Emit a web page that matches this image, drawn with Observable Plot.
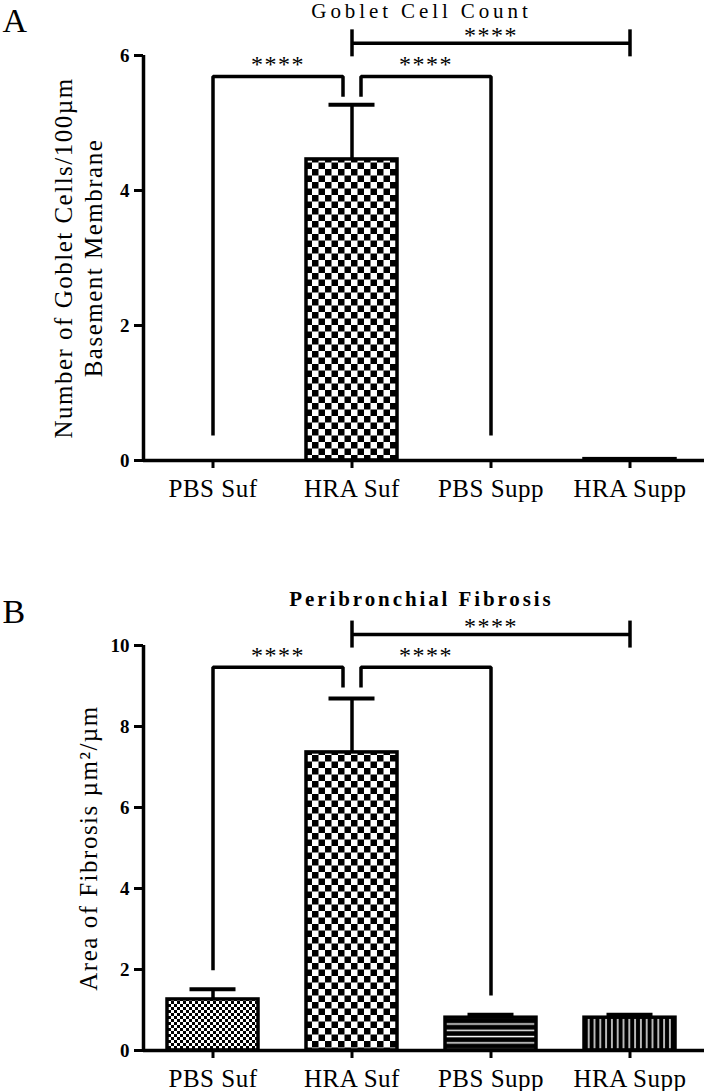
<!DOCTYPE html>
<html><head><meta charset="utf-8">
<script src="https://cdn.jsdelivr.net/npm/d3@7"></script>
<script src="https://cdn.jsdelivr.net/npm/@observablehq/plot@0.6"></script>
<style>
body{margin:0;background:#fff;}
#wrap{width:704px;}
#wrap svg{display:block;}
</style></head><body>
<svg width="0" height="0" style="position:absolute">
<defs>
 <pattern id="fineCheck" patternUnits="userSpaceOnUse" width="6" height="6">
  <rect width="6" height="6" fill="#fff"/><rect width="3" height="3" fill="#000"/><rect x="3" y="3" width="3" height="3" fill="#000"/>
 </pattern>
 <pattern id="coarseCheck" patternUnits="userSpaceOnUse" width="13" height="13">
  <rect width="13" height="13" fill="#fff"/><rect width="6.5" height="6.5" fill="#000"/><rect x="6.5" y="6.5" width="6.5" height="6.5" fill="#000"/>
 </pattern>
 <pattern id="hLines" patternUnits="userSpaceOnUse" width="10" height="6.3">
  <rect width="10" height="6.3" fill="#000"/><rect y="3.4" width="10" height="1.4" fill="#fff"/>
 </pattern>
 <pattern id="vLines" patternUnits="userSpaceOnUse" width="5.8" height="10">
  <rect width="5.8" height="10" fill="#000"/><rect x="2.2" width="1.4" height="10" fill="#fff"/>
 </pattern>
</defs></svg>
<div id="wrap"></div>
<script>
// ---- data ----
const categories = ["PBS Suf", "HRA Suf", "PBS Supp", "HRA Supp"];
const gobletMean = [0, 4.46, 0, 0.02];
const gobletSem = [0, 0.81, 0, 0];
const fibrosisMean = [1.26, 7.36, 0.81, 0.81];
const fibrosisSem = [0.25, 1.33, 0.07, 0.07];
const gobletTicks = [0, 2, 4, 6];
const fibrosisTicks = [0, 2, 4, 6, 8, 10];
// comparisons: from/to category index, bracket level, end heights (null = span bracket)
const gobletComparisons = [
  {from: 0, to: 1, level: 5.69, endFrom: 0.37, endTo: 5.39, label: "****"},
  {from: 1, to: 2, level: 5.69, endFrom: 5.39, endTo: 0.37, label: "****"},
  {from: 1, to: 3, level: 6.18, endFrom: null, endTo: null, label: "****"}
];
const fibrosisComparisons = [
  {from: 0, to: 1, level: 9.46, endFrom: 1.98, endTo: 8.96, label: "****"},
  {from: 1, to: 2, level: 9.46, endFrom: 8.96, endTo: 1.36, label: "****"},
  {from: 1, to: 3, level: 10.27, endFrom: null, endTo: null, label: "****"}
];

// ---- styles ----
const fills = ["url(#fineCheck)", "url(#coarseCheck)", "url(#hLines)", "url(#vLines)"];
const SERIF = "Liberation Serif";

function panel({letter, title, titleWeight, titleY, letterY, ylabel, mean, sem, ticks, ymax, comps, height, marginTop, marginBottom}) {
  const marginLeft = 143, marginRight = 5, width = 704;
  const pxX = (width - marginLeft - marginRight) / 4;
  const pxY = (height - marginTop - marginBottom) / ymax;
  const hw = 45.5 / pxX, capHw = 23 / pxX, gap = 9 / pxX, tickH = 13.5 / pxY;
  const bars = categories.map((c, i) => ({i, v: mean[i], e: sem[i]}));
  const errs = bars.filter(d => d.e > 0);
  const pts = [];
  const spanEnds = [];
  const labels = [];
  comps.forEach((c, k) => {
    if (c.endFrom == null) {
      pts.push({id: k, x: c.from, y: c.level}, {id: k, x: c.to, y: c.level});
      spanEnds.push({x: c.from, y: c.level}, {x: c.to, y: c.level});
      labels.push({x: (c.from + c.to) / 2, y: c.level, label: c.label, span: true});
    } else {
      const fx = c.from + (Math.abs(c.endFrom - c.level) < 1.5 ? gap : 0);
      const tx = c.to - (Math.abs(c.endTo - c.level) < 1.5 ? gap : 0);
      pts.push({id: k, x: fx, y: c.endFrom}, {id: k, x: fx, y: c.level},
               {id: k, x: tx, y: c.level}, {id: k, x: tx, y: c.endTo});
      labels.push({x: (fx + tx) / 2, y: c.level, label: c.label, span: false});
    }
  });
  const svg = Plot.plot({
    width, height, marginTop, marginBottom, marginLeft, marginRight,
    style: {fontFamily: SERIF, color: "black", background: "white", overflow: "visible"},
    x: {domain: [-0.5, 3.5], axis: null},
    y: {domain: [0, ymax], axis: null},
    color: {type: "identity"},
    marks: [
      Plot.rectY(bars, {x1: d => d.i - hw, x2: d => d.i + hw, y1: 0, y2: "v",
        fill: d => fills[d.i], stroke: "black", strokeWidth: 3.5}),
      Plot.ruleX(errs, {x: "i", y1: "v", y2: d => d.v + d.e, stroke: "black", strokeWidth: 3.5}),
      Plot.ruleY(errs, {y: d => d.v + d.e, x1: d => d.i - capHw, x2: d => d.i + capHw, stroke: "black", strokeWidth: 4}),
      Plot.ruleX([-0.5], {stroke: "black", strokeWidth: 3.5}),
      Plot.ruleY([0], {stroke: "black", strokeWidth: 3.5, insetRight: -5}),
      Plot.axisY({ticks, tickFormat: d3.format("d"), tickSize: 9, tickPadding: 5, strokeWidth: 3, fontSize: 19,
        fontWeight: "bold", fontFamily: SERIF, label: null}),
      Plot.axisX({ticks: [0, 1, 2, 3], tickFormat: i => categories[i], tickSize: 8, tickPadding: 11,
        strokeWidth: 3, fontSize: 25, fontFamily: SERIF, label: null}),
      Plot.line(pts, {x: "x", y: "y", z: "id", stroke: "black", strokeWidth: 3.5,
        strokeLinejoin: "miter", strokeLinecap: "butt"}),
      Plot.ruleX(spanEnds, {x: "x", y1: d => d.y - tickH, y2: d => d.y + tickH, stroke: "black", strokeWidth: 3.5}),
      Plot.text(labels.filter(d => !d.span), {x: "x", y: "y", text: "label", fontSize: 24, fontFamily: SERIF, dy: -12}),
      Plot.text(labels.filter(d => d.span), {x: "x", y: "y", text: "label", fontSize: 24, fontFamily: SERIF, dy: -8}),
      Plot.text([title], {frameAnchor: "top", lineAnchor: "middle", dy: titleY - marginTop, fontSize: 21,
        fontWeight: titleWeight, fontFamily: SERIF}),
      ...ylabel.map((t, j) => Plot.text([t], {frameAnchor: "left", textAnchor: "middle", rotate: -90,
        dx: ylabel.length === 2 ? (j === 0 ? -80 : -50) : -55, fontSize: 25, fontFamily: SERIF})),
      Plot.text([letter], {frameAnchor: "top-left", textAnchor: "start", lineAnchor: "middle", dx: -141,
        dy: letterY - marginTop, fontSize: 34, fontFamily: SERIF})
    ]
  });
  // letter spacing of the serif texts, as in the reference
  const spacingFor = new Map([[title, letter === "A" ? 3.9 : 2.9], ["****", 1.5]]);
  ylabel.forEach(t => spacingFor.set(t, 1.5));
  categories.forEach(t => spacingFor.set(t, 0.5));
  d3.select(svg).selectAll("text").each(function() {
    const s = spacingFor.get(this.textContent);
    if (s != null) this.style.letterSpacing = s + "px";
  });
  return svg;
}

const wrap = document.getElementById("wrap");
const pa = panel({letter: "A", title: "Goblet Cell Count", titleWeight: "normal", titleY: 11, letterY: 21,
  ylabel: ["Number of Goblet Cells/100\u00b5m", "Basement Membrane"],
  mean: gobletMean, sem: gobletSem, ticks: gobletTicks, ymax: 6, comps: gobletComparisons,
  height: 560, marginTop: 55, marginBottom: 100});
const pb = panel({letter: "B", title: "Peribronchial Fibrosis", titleWeight: "bold", titleY: 39, letterY: 52,
  ylabel: ["Area of Fibrosis \u00b5m\u00b2/\u00b5m"],
  mean: fibrosisMean, sem: fibrosisSem, ticks: fibrosisTicks, ymax: 10, comps: fibrosisComparisons,
  height: 531, marginTop: 85, marginBottom: 41});
wrap.appendChild(pa);
wrap.appendChild(pb);
</script>
</body></html>
